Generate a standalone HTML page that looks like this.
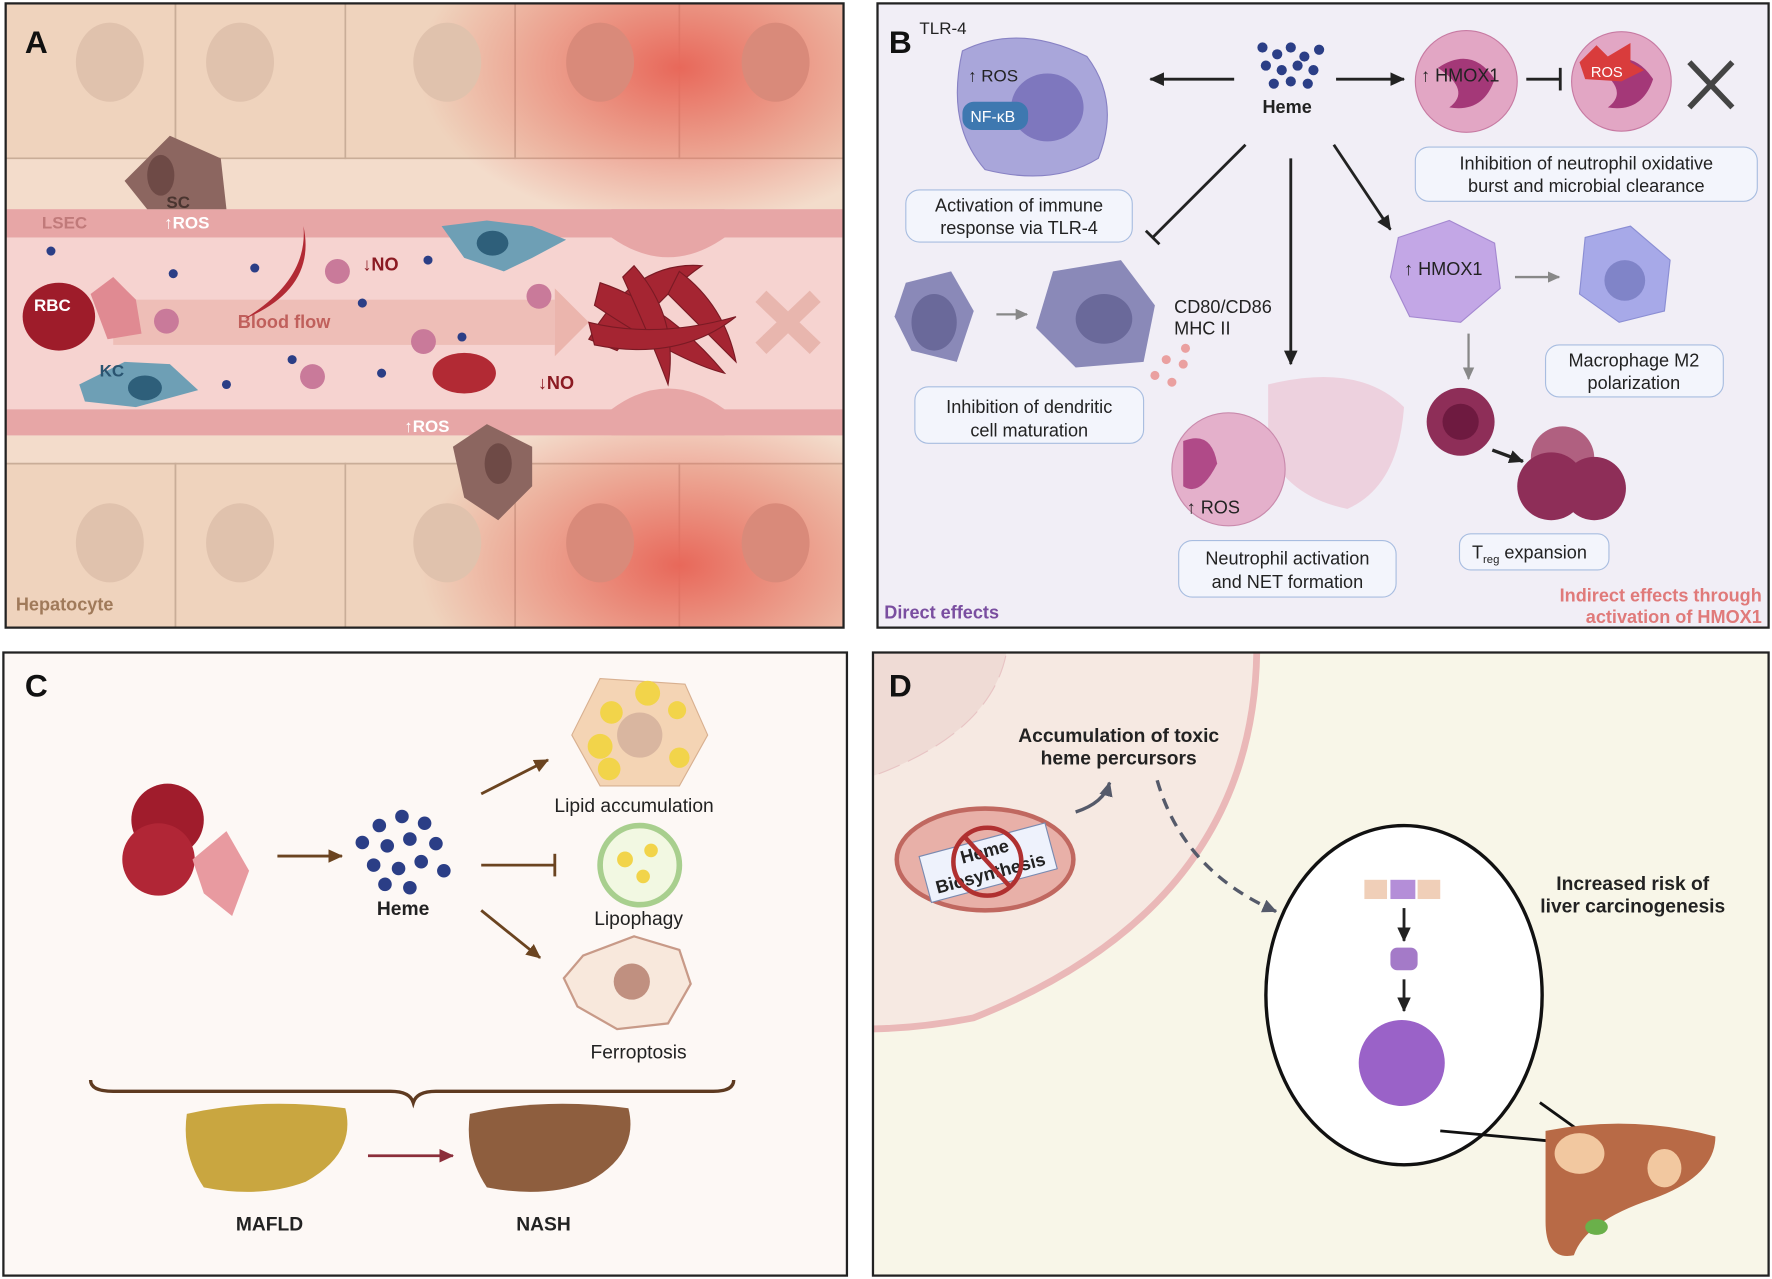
<!DOCTYPE html>
<html><head><meta charset="utf-8"><style>
html,body{margin:0;padding:0;background:#fff;}
svg{display:block;font-family:"Liberation Sans",sans-serif;}
</style></head><body>
<svg width="1772" height="1279" viewBox="0 0 1565 1131" preserveAspectRatio="none" xmlns="http://www.w3.org/2000/svg">
<defs>
<radialGradient id="red1" cx="0.5" cy="0.5" r="0.5"><stop offset="0" stop-color="#e8685a"/><stop offset="0.5" stop-color="#e8685a" stop-opacity="0.5"/><stop offset="1" stop-color="#e8685a" stop-opacity="0"/></radialGradient>
<clipPath id="cA"><rect x="5" y="3" width="740" height="552"/></clipPath>
<clipPath id="cD"><rect x="771" y="577" width="791" height="551"/></clipPath>
<marker id="ab" markerUnits="userSpaceOnUse" markerWidth="14" markerHeight="14" refX="12" refY="7" orient="auto"><path d="M0,1 L13,7 L0,13 z" fill="#222"/></marker>
<marker id="abr" markerUnits="userSpaceOnUse" markerWidth="14" markerHeight="14" refX="12" refY="7" orient="auto"><path d="M0,1 L13,7 L0,13 z" fill="#6b4420"/></marker>
<marker id="abg" markerUnits="userSpaceOnUse" markerWidth="12" markerHeight="12" refX="10" refY="6" orient="auto"><path d="M0,1 L11,6 L0,11 z" fill="#888"/></marker>
<marker id="abd" markerUnits="userSpaceOnUse" markerWidth="14" markerHeight="14" refX="12" refY="7" orient="auto"><path d="M0,1 L13,7 L0,13 z" fill="#8b2e3a"/></marker>
<marker id="abs" markerUnits="userSpaceOnUse" markerWidth="14" markerHeight="14" refX="12" refY="7" orient="auto"><path d="M0,1 L13,7 L0,13 z" fill="#555a6a"/></marker>
</defs>

<!-- PANEL A -->
<g clip-path="url(#cA)">
<rect x="5" y="3" width="740" height="552" fill="#f3dccb"/>
<g fill="#efd3bd" stroke="#c9ad98" stroke-width="1.5">
<path d="M5,3 H155 V140 H5 Z"/><path d="M155,3 H305 V140 H155 Z"/><path d="M305,3 H455 V140 H305 Z"/><path d="M455,3 H600 V140 H455 Z"/><path d="M600,3 H745 V140 H600 Z"/>
<path d="M5,410 H155 V555 H5 Z"/><path d="M155,410 H305 V555 H155 Z"/><path d="M305,410 H455 V555 H305 Z"/><path d="M455,410 H600 V555 H455 Z"/><path d="M600,410 H745 V555 H600 Z"/>
</g>
<ellipse cx="600" cy="60" rx="230" ry="140" fill="url(#red1)"/>
<ellipse cx="600" cy="500" rx="230" ry="140" fill="url(#red1)"/>
<g fill="#e0c2ad"><ellipse cx="97" cy="55" rx="30" ry="35"/><ellipse cx="212" cy="55" rx="30" ry="35"/><ellipse cx="395" cy="55" rx="30" ry="35"/><ellipse cx="530" cy="55" rx="30" ry="35" fill="#d98a7a"/><ellipse cx="685" cy="55" rx="30" ry="35" fill="#d98a7a"/>
<ellipse cx="97" cy="480" rx="30" ry="35"/><ellipse cx="212" cy="480" rx="30" ry="35"/><ellipse cx="395" cy="480" rx="30" ry="35"/><ellipse cx="530" cy="480" rx="30" ry="35" fill="#d98a7a"/><ellipse cx="685" cy="480" rx="30" ry="35" fill="#d98a7a"/></g>
<rect x="5" y="185" width="740" height="200" fill="#f6d3d0"/>
<rect x="5" y="185" width="740" height="25" fill="#e7a6a6"/>
<rect x="5" y="362" width="740" height="23" fill="#e7a6a6"/>
<path d="M540,210 Q590,245 640,210 L640,185 L540,185 Z" fill="#e7a6a6"/>
<path d="M540,362 Q590,325 640,362 L640,385 L540,385Z" fill="#e7a6a6"/>
<rect x="100" y="265" width="390" height="40" fill="#ebb5ad" opacity="0.7"/>
<path d="M490,255 L520,285 L490,315 Z" fill="#ebb5ad"/>
<text x="210" y="290" font-size="16" font-weight="bold" fill="#c0605c">Blood flow</text>
<ellipse cx="52" cy="280" rx="32" ry="30" fill="#9e1c2a"/>
<path d="M80,260 L100,245 L120,265 L125,295 L95,300Z" fill="#e08a92"/>
<text x="30" y="275" font-size="15" font-weight="bold" fill="#fff">RBC</text>
<ellipse cx="410" cy="330" rx="28" ry="18" fill="#b22a34"/>
<path d="M222,278 Q272,245 268,200 Q280,255 216,282Z" fill="#b22a34"/>
<g fill="#a52532" stroke="#7a1a24" stroke-width="1">
<path d="M520,300 Q560,230 620,235 Q590,255 545,310Z"/><path d="M530,250 Q590,270 640,330 Q600,320 525,270Z"/><path d="M560,235 Q600,280 590,340 Q575,300 550,245Z"/><path d="M600,240 Q640,270 650,320 Q630,300 590,260Z"/><path d="M520,285 Q580,300 650,280 Q600,320 525,305Z"/></g>
<path d="M672,262 L720,308 M720,262 L672,308" stroke="#e8b6ae" stroke-width="14"/>
<path d="M390,200 L430,195 L470,200 L500,212 L470,228 L445,240 L410,228 Z" fill="#6e9fb5"/><ellipse cx="435" cy="215" rx="14" ry="11" fill="#2e5f7a"/>
<path d="M70,340 L110,320 L150,322 L175,345 L120,360 L75,355 Z" fill="#6e9fb5"/><ellipse cx="128" cy="343" rx="15" ry="11" fill="#2e5f7a"/>
<path d="M110,160 L150,120 L195,140 L200,185 L130,185 Z" fill="#8c6660"/><ellipse cx="142" cy="155" rx="12" ry="18" fill="#6e4a46"/>
<path d="M400,395 L430,375 L470,395 L470,430 L440,460 L410,440 Z" fill="#8c6660"/><ellipse cx="440" cy="410" rx="12" ry="18" fill="#6e4a46"/>
<g fill="#2b3e86"><circle cx="45" cy="222" r="4"/><circle cx="153" cy="242" r="4"/><circle cx="225" cy="237" r="4"/><circle cx="320" cy="268" r="4"/><circle cx="408" cy="298" r="4"/><circle cx="378" cy="230" r="4"/><circle cx="200" cy="340" r="4"/><circle cx="258" cy="318" r="4"/><circle cx="337" cy="330" r="4"/></g>
<g fill="#c97a9a"><circle cx="147" cy="284" r="11"/><circle cx="298" cy="240" r="11"/><circle cx="374" cy="302" r="11"/><circle cx="276" cy="333" r="11"/><circle cx="476" cy="262" r="11"/></g>
<text x="320" y="239" font-size="16" font-weight="bold" fill="#8b1a22">↓NO</text>
<text x="475" y="344" font-size="16" font-weight="bold" fill="#8b1a22">↓NO</text>
<text x="37" y="202" font-size="15" font-weight="bold" fill="#c07a7a">LSEC</text>
<text x="145" y="202" font-size="15" font-weight="bold" fill="#fff">↑ROS</text>
<text x="147" y="184" font-size="15" font-weight="bold" fill="#4a3530">SC</text>
<text x="357" y="382" font-size="15" font-weight="bold" fill="#fff">↑ROS</text>
<text x="88" y="333" font-size="15" font-weight="bold" fill="#2a5470">KC</text>
<text x="14" y="540" font-size="16" font-weight="bold" fill="#a07a5a">Hepatocyte</text>
<text x="22" y="47" font-size="28" font-weight="bold" fill="#111">A</text>
</g>
<rect x="5" y="3" width="740" height="552" fill="none" stroke="#222" stroke-width="2"/>

<!-- PANEL B -->
<rect x="775" y="3" width="787" height="552" fill="#f1eef6" stroke="#222" stroke-width="2"/>
<text x="785" y="47" font-size="28" font-weight="bold" fill="#111">B</text>
<path d="M850,45 Q900,20 960,50 Q990,90 970,140 Q930,165 870,150 Q835,110 850,45Z" fill="#a9a6da" stroke="#8882c4"/>
<ellipse cx="925" cy="95" rx="32" ry="30" fill="#7e77be"/>
<rect x="850" y="90" width="58" height="25" rx="10" fill="#3e78b0"/><text x="857" y="108" font-size="14" fill="#fff">NF-κB</text>
<text x="812" y="30" font-size="15" fill="#222">TLR-4</text>
<text x="855" y="72" font-size="15" fill="#222">↑ ROS</text>
<g fill="#2b3e86"><circle cx="1115" cy="42" r="4.5"/><circle cx="1128" cy="48" r="4.5"/><circle cx="1140" cy="42" r="4.5"/><circle cx="1152" cy="50" r="4.5"/><circle cx="1165" cy="44" r="4.5"/><circle cx="1118" cy="58" r="4.5"/><circle cx="1132" cy="62" r="4.5"/><circle cx="1146" cy="58" r="4.5"/><circle cx="1160" cy="62" r="4.5"/><circle cx="1125" cy="74" r="4.5"/><circle cx="1140" cy="72" r="4.5"/><circle cx="1155" cy="74" r="4.5"/></g>
<text x="1115" y="100" font-size="16" font-weight="bold" fill="#222">Heme</text>
<g stroke="#222" stroke-width="2.5" fill="none">
<line x1="1090" y1="70" x2="1016" y2="70" marker-end="url(#ab)"/>
<line x1="1180" y1="70" x2="1240" y2="70" marker-end="url(#ab)"/>
<line x1="1100" y1="128" x2="1018" y2="210"/><line x1="1012" y1="204" x2="1024" y2="216"/>
<line x1="1140" y1="140" x2="1140" y2="322" marker-end="url(#ab)"/>
<line x1="1178" y1="128" x2="1228" y2="203" marker-end="url(#ab)"/>
<line x1="1348" y1="70" x2="1378" y2="70"/><line x1="1378" y1="60" x2="1378" y2="80"/>
</g>
<circle cx="1295" cy="72" r="45" fill="#e2a6c4" stroke="#c77aa2"/><path d="M1270,60 Q1300,40 1320,70 Q1310,100 1280,95 Q1300,80 1270,60Z" fill="#a43878"/>
<text x="1255" y="72" font-size="16" fill="#222">↑ HMOX1</text>
<circle cx="1432" cy="72" r="44" fill="#e2a6c4" stroke="#c77aa2"/><path d="M1410,60 Q1440,40 1460,70 Q1450,100 1420,95 Q1440,80 1410,60Z" fill="#a43878"/>
<path d="M1395,55 L1410,40 L1420,50 L1440,38 L1440,55 L1452,62 L1432,72 L1400,70Z" fill="#d93c3c"/><text x="1405" y="68" font-size="13" fill="#fff">ROS</text>
<path d="M1492,55 L1530,95 M1530,55 L1492,95" stroke="#444" stroke-width="5"/>
<rect x="1250" y="130" width="302" height="48" rx="12" fill="#f3f5fc" stroke="#a8bde0"/>
<text x="1401" y="150" font-size="16" fill="#222" text-anchor="middle">Inhibition of neutrophil oxidative</text>
<text x="1401" y="170" font-size="16" fill="#222" text-anchor="middle">burst and microbial clearance</text>
<rect x="800" y="168" width="200" height="46" rx="12" fill="#f3f5fc" stroke="#a8bde0"/>
<text x="900" y="187" font-size="16" fill="#222" text-anchor="middle">Activation of immune</text>
<text x="900" y="207" font-size="16" fill="#222" text-anchor="middle">response via TLR-4</text>
<path d="M800,250 L840,240 L860,275 L845,320 L805,310 L790,280Z" fill="#8a89b8"/><ellipse cx="825" cy="285" rx="20" ry="25" fill="#6a699a"/>
<line x1="880" y1="278" x2="907" y2="278" stroke="#888" stroke-width="2" marker-end="url(#abg)"/>
<path d="M930,240 L990,230 L1020,270 L1010,320 L950,325 L915,290Z" fill="#8a89b8"/><ellipse cx="975" cy="282" rx="25" ry="22" fill="#6a699a"/>
<text x="1037" y="277" font-size="16" fill="#222">CD80/CD86</text>
<text x="1037" y="296" font-size="16" fill="#222">MHC II</text>
<g fill="#eaa0a0"><circle cx="1030" cy="318" r="4"/><circle cx="1045" cy="322" r="4"/><circle cx="1020" cy="332" r="4"/><circle cx="1035" cy="338" r="4"/><circle cx="1047" cy="308" r="4"/></g>
<rect x="808" y="342" width="202" height="50" rx="12" fill="#f3f5fc" stroke="#a8bde0"/>
<text x="909" y="365" font-size="16" fill="#222" text-anchor="middle">Inhibition of dendritic</text>
<text x="909" y="386" font-size="16" fill="#222" text-anchor="middle">cell maturation</text>
<path d="M1120,340 Q1200,320 1240,360 Q1235,430 1190,450 Q1140,440 1120,400Z" fill="#ecc9d8" opacity="0.8"/>
<circle cx="1085" cy="415" r="50" fill="#e4b0cb" stroke="#c98aac"/><path d="M1045,390 Q1070,380 1075,410 Q1060,440 1045,430Z" fill="#b04a88"/>
<text x="1048" y="454" font-size="16" fill="#222">↑ ROS</text>
<rect x="1041" y="478" width="192" height="50" rx="12" fill="#f3f5fc" stroke="#a8bde0"/>
<text x="1137" y="499" font-size="16" fill="#222" text-anchor="middle">Neutrophil activation</text>
<text x="1137" y="520" font-size="16" fill="#222" text-anchor="middle">and NET formation</text>
<path d="M1235,210 L1280,195 L1320,215 L1325,255 L1290,285 L1245,280 L1228,245Z" fill="#c3a7e6" stroke="#a488d0"/>
<text x="1240" y="243" font-size="16" fill="#222">↑ HMOX1</text>
<line x1="1338" y1="245" x2="1377" y2="245" stroke="#888" stroke-width="2" marker-end="url(#abg)"/>
<path d="M1400,210 L1440,200 L1475,230 L1470,275 L1430,285 L1395,260Z" fill="#a7a9e8" stroke="#8b8ed4"/><circle cx="1435" cy="248" r="18" fill="#8084c8"/>
<rect x="1365" y="305" width="157" height="46" rx="12" fill="#f3f5fc" stroke="#a8bde0"/>
<text x="1443" y="324" font-size="16" fill="#222" text-anchor="middle">Macrophage M2</text>
<text x="1443" y="344" font-size="16" fill="#222" text-anchor="middle">polarization</text>
<line x1="1297" y1="295" x2="1297" y2="335" stroke="#888" stroke-width="2" marker-end="url(#abg)"/>
<circle cx="1290" cy="373" r="30" fill="#8e2e58"/><circle cx="1290" cy="373" r="16" fill="#6e1a40"/>
<line x1="1318" y1="398" x2="1345" y2="408" stroke="#222" stroke-width="3" marker-end="url(#ab)"/>
<circle cx="1380" cy="405" r="28" fill="#b06080"/>
<circle cx="1370" cy="430" r="30" fill="#8e2e58"/><circle cx="1408" cy="432" r="28" fill="#8e2e58"/>
<rect x="1289" y="472" width="132" height="32" rx="10" fill="#f3f5fc" stroke="#a8bde0"/>
<text x="1300" y="494" font-size="16" fill="#222">T<tspan font-size="10" dy="4">reg</tspan><tspan dy="-4"> expansion</tspan></text>
<text x="781" y="547" font-size="16" font-weight="bold" fill="#7a4ea0">Direct effects</text>
<text x="1556" y="532" font-size="16" font-weight="bold" fill="#e07a7a" text-anchor="end">Indirect effects through</text>
<text x="1556" y="551" font-size="16" font-weight="bold" fill="#e07a7a" text-anchor="end">activation of HMOX1</text>

<!-- PANEL C -->
<rect x="3" y="577" width="745" height="551" fill="#fdf8f5" stroke="#222" stroke-width="2"/>
<text x="22" y="616" font-size="28" font-weight="bold" fill="#111">C</text>
<circle cx="148" cy="725" r="32" fill="#a01c2c"/>
<circle cx="140" cy="760" r="32" fill="#b12636"/>
<path d="M170,760 L200,735 L220,770 L205,810 L180,790Z" fill="#e89aa0"/>
<line x1="245" y1="757" x2="302" y2="757" stroke="#6b4420" stroke-width="2.5" marker-end="url(#abr)"/>
<g fill="#2b3e86"><circle cx="335" cy="730" r="6"/><circle cx="355" cy="722" r="6"/><circle cx="375" cy="728" r="6"/><circle cx="320" cy="745" r="6"/><circle cx="342" cy="748" r="6"/><circle cx="362" cy="742" r="6"/><circle cx="385" cy="746" r="6"/><circle cx="330" cy="765" r="6"/><circle cx="352" cy="768" r="6"/><circle cx="372" cy="762" r="6"/><circle cx="392" cy="770" r="6"/><circle cx="340" cy="782" r="6"/><circle cx="362" cy="785" r="6"/></g>
<text x="356" y="809" font-size="17" font-weight="bold" fill="#222" text-anchor="middle">Heme</text>
<g stroke="#6b4420" stroke-width="2.5">
<line x1="425" y1="702" x2="484" y2="672" marker-end="url(#abr)"/>
<line x1="425" y1="765" x2="490" y2="765"/><line x1="490" y1="755" x2="490" y2="775"/>
<line x1="425" y1="805" x2="477" y2="847" marker-end="url(#abr)"/>
</g>
<path d="M530,600 L605,605 L625,650 L600,695 L530,695 L505,650Z" fill="#f4d4b4" stroke="#d8b090"/>
<circle cx="565" cy="650" r="20" fill="#d9b6a0"/>
<g fill="#f2d44a"><circle cx="540" cy="630" r="10"/><circle cx="572" cy="613" r="11"/><circle cx="598" cy="628" r="8"/><circle cx="530" cy="660" r="11"/><circle cx="600" cy="670" r="9"/><circle cx="538" cy="680" r="10"/></g>
<text x="560" y="718" font-size="17" fill="#222" text-anchor="middle">Lipid accumulation</text>
<circle cx="565" cy="765" r="35" fill="#f2f8e2" stroke="#a8cf8e" stroke-width="5"/>
<circle cx="552" cy="760" r="7" fill="#f2d44a"/><circle cx="575" cy="752" r="6" fill="#f2d44a"/><circle cx="568" cy="775" r="6" fill="#f2d44a"/>
<text x="564" y="818" font-size="17" fill="#222" text-anchor="middle">Lipophagy</text>
<path d="M515,845 L560,828 L600,840 L610,870 L590,905 L545,910 L510,890 L498,865Z" fill="#f8e8dc" stroke="#c89a88" stroke-width="2"/>
<circle cx="558" cy="868" r="16" fill="#c09080"/>
<text x="564" y="936" font-size="17" fill="#222" text-anchor="middle">Ferroptosis</text>
<path d="M80,955 Q80,965 100,965 L345,965 Q362,965 365,975 Q368,965 385,965 L630,965 Q648,965 648,955" fill="none" stroke="#5e3a20" stroke-width="3"/>
<path d="M165,985 Q230,970 305,980 Q315,1020 270,1045 Q230,1060 180,1050 Q160,1020 165,985Z" fill="#c9a640"/>
<path d="M415,985 Q480,970 555,980 Q565,1020 520,1045 Q480,1060 430,1050 Q410,1020 415,985Z" fill="#8e5e3e"/>
<line x1="325" y1="1022" x2="400" y2="1022" stroke="#8b2e3a" stroke-width="2.5" marker-end="url(#abd)"/>
<text x="238" y="1088" font-size="17" font-weight="bold" fill="#222" text-anchor="middle">MAFLD</text>
<text x="480" y="1088" font-size="17" font-weight="bold" fill="#222" text-anchor="middle">NASH</text>

<!-- PANEL D -->
<rect x="771" y="577" width="791" height="551" fill="#f8f6e8"/>
<g clip-path="url(#cD)">
<path d="M760,570 L1110,570 Q1110,800 860,900 Q810,910 760,910Z" fill="#f6e9e2" stroke="#eab8b8" stroke-width="6"/>
<path d="M760,570 L890,570 Q880,650 760,690Z" fill="#efdbd5" stroke="#e8c4c4" stroke-dasharray="20 8"/>
</g>
<rect x="771" y="577" width="791" height="551" fill="none" stroke="#222" stroke-width="2"/>
<text x="785" y="616" font-size="28" font-weight="bold" fill="#111">D</text>
<text x="988" y="656" font-size="17" font-weight="bold" fill="#222" text-anchor="middle">Accumulation of toxic</text>
<text x="988" y="676" font-size="17" font-weight="bold" fill="#222" text-anchor="middle">heme percursors</text>
<ellipse cx="870" cy="760" rx="78" ry="45" fill="#e8b0a8" stroke="#c06860" stroke-width="4"/>
<g transform="rotate(-15 872 762)"><rect x="815" y="742" width="115" height="42" fill="#eef2fc" stroke="#7a8ab0"/>
<text x="872" y="758" font-size="16" font-weight="bold" fill="#222" text-anchor="middle">Heme</text>
<text x="872" y="778" font-size="16" font-weight="bold" fill="#222" text-anchor="middle">Biosynthesis</text></g>
<circle cx="872" cy="762" r="30" fill="none" stroke="#b03030" stroke-width="4"/><line x1="852" y1="740" x2="892" y2="784" stroke="#b03030" stroke-width="4"/>
<path d="M950,718 Q975,710 980,692" fill="none" stroke="#555a6a" stroke-width="3" marker-end="url(#abs)"/>
<path d="M1022,690 Q1045,770 1127,806" fill="none" stroke="#555a6a" stroke-width="3" stroke-dasharray="10 7" marker-end="url(#abs)"/>
<ellipse cx="1240" cy="880" rx="122" ry="150" fill="#fff" stroke="#111" stroke-width="3"/>
<rect x="1205" y="778" width="20" height="17" fill="#f0cfb8"/><rect x="1228" y="778" width="22" height="17" fill="#b48ed8"/><rect x="1252" y="778" width="20" height="17" fill="#f0cfb8"/>
<line x1="1240" y1="803" x2="1240" y2="832" stroke="#222" stroke-width="2.5" marker-end="url(#ab)"/>
<rect x="1228" y="838" width="24" height="20" rx="6" fill="#a47ac8"/>
<line x1="1240" y1="866" x2="1240" y2="894" stroke="#222" stroke-width="2.5" marker-end="url(#ab)"/>
<circle cx="1238" cy="940" r="38" fill="#9a62c8"/>
<text x="1442" y="787" font-size="17" font-weight="bold" fill="#222" text-anchor="middle">Increased risk of</text>
<text x="1442" y="807" font-size="17" font-weight="bold" fill="#222" text-anchor="middle">liver carcinogenesis</text>
<path d="M1272,1000 L1380,1010 M1360,975 L1395,1000" stroke="#111" stroke-width="2.5"/>
<path d="M1365,1000 Q1440,985 1515,1005 Q1515,1040 1460,1060 Q1400,1080 1390,1110 Q1365,1115 1365,1080Z" fill="#b86a46"/>
<ellipse cx="1395" cy="1020" rx="22" ry="18" fill="#f2c8a0"/><ellipse cx="1470" cy="1033" rx="15" ry="17" fill="#f2c8a0"/>
<ellipse cx="1410" cy="1085" rx="10" ry="7" fill="#6ab04a"/>
</svg>
</body></html>
